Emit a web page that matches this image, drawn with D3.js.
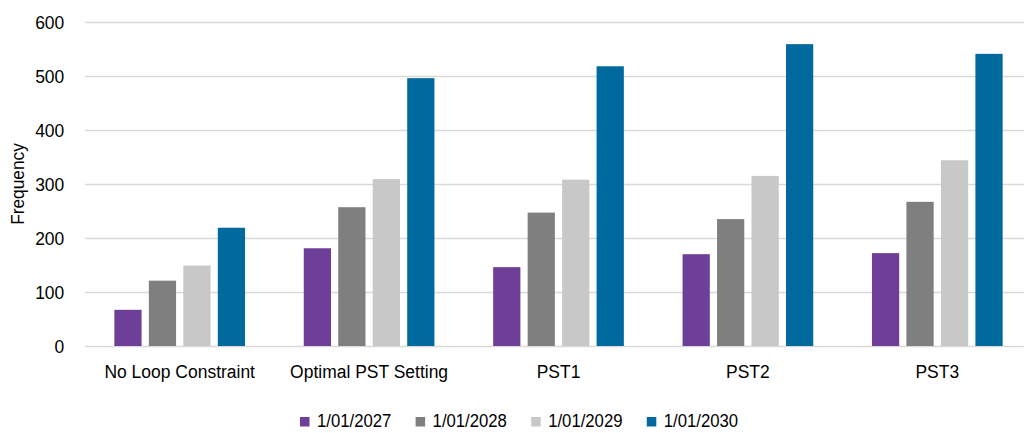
<!DOCTYPE html>
<html>
<head>
<meta charset="utf-8">
<script src="https://cdn.jsdelivr.net/npm/d3@7"></script>
<style>
  html, body { margin: 0; padding: 0; background: #fff; }
  svg text { font-family: "Liberation Sans", Arial, sans-serif; fill: #000; }
</style>
</head>
<body>
<svg id="chart" width="1024" height="433"></svg>
<script>
const categories = ["No Loop Constraint", "Optimal PST Setting", "PST1", "PST2", "PST3"];
const seriesNames = ["1/01/2027", "1/01/2028", "1/01/2029", "1/01/2030"];
const values2027 = [67, 181, 146, 170, 172];
const values2028 = [121, 257, 247, 235, 267];
const values2029 = [149, 309, 308, 315, 344];
const values2030 = [219, 496, 518, 559, 541];
const seriesColors = ["#6E3F98", "#7F7F7F", "#C8C8C8", "#006A9E"];
const yTicks = [0, 100, 200, 300, 400, 500, 600];

const allSeries = [values2027, values2028, values2029, values2030];
const data = categories.map((c, i) => ({
  cat: c,
  vals: seriesNames.map((s, j) => ({ key: s, value: allSeries[j][i], color: seriesColors[j] }))
}));

const svg = d3.select("#chart");
const plotLeft = 85, plotRight = 1032, plotTop = 22, plotBottom = 346;
const SX = 0.92;

const x0 = d3.scaleBand().domain(categories).range([plotLeft, plotRight]).paddingInner(0.31).paddingOuter(0.155);
const x1 = d3.scaleBand().domain(seriesNames).range([0, x0.bandwidth()]).paddingInner(0.21).paddingOuter(0);
const y = d3.scaleLinear().domain([0, 600]).range([plotBottom, plotTop]);

// gridlines + y axis labels
const yAxis = d3.axisLeft(y).tickValues(yTicks).tickSize(-(1024 - plotLeft)).tickPadding(0).tickFormat(d3.format("d"));
const gy = svg.append("g").attr("transform", `translate(${plotLeft},0)`).call(yAxis);
gy.select(".domain").remove();
gy.selectAll(".tick line").attr("stroke", "#D9D9D9").attr("stroke-width", 1.5);
gy.selectAll(".tick text")
  .attr("x", -22.5)
  .attr("dy", "0.34em")
  .attr("font-size", 19)
  .attr("transform", `scale(${SX},1)`);

// bars
const groups = svg.append("g").selectAll("g").data(data).join("g")
  .attr("transform", d => `translate(${x0(d.cat)},0)`);
groups.selectAll("rect").data(d => d.vals).join("rect")
  .attr("x", d => x1(d.key))
  .attr("width", x1.bandwidth())
  .attr("y", d => y(d.value))
  .attr("height", d => y(0) - y(d.value))
  .attr("fill", d => d.color);

// x axis labels
const xAxis = d3.axisBottom(x0).tickSize(0).tickPadding(0);
const gx = svg.append("g").attr("transform", `translate(0,${plotBottom})`).call(xAxis);
gx.select(".domain").remove();
gx.selectAll(".tick text")
  .attr("y", 32)
  .attr("dy", 0)
  .attr("font-size", 19)
  .attr("transform", `scale(${SX},1)`);

// y axis title
svg.append("text")
  .attr("transform", `translate(24,184) rotate(-90) scale(0.91,1)`)
  .attr("text-anchor", "middle")
  .attr("font-size", 19)
  .text("Frequency");

// legend
const legend = svg.append("g").attr("transform", "translate(300,417)");
const li = legend.selectAll("g").data(seriesNames).join("g")
  .attr("transform", (d, i) => `translate(${i * 115.6},0)`);
li.append("rect").attr("width", 9.5).attr("height", 9.5).attr("fill", (d, i) => seriesColors[i]);
li.append("text")
  .attr("x", 17 / 0.88)
  .attr("y", 9.7)
  .attr("font-size", 19)
  .attr("transform", "scale(0.88,1)")
  .text(d => d);
</script>
</body>
</html>
